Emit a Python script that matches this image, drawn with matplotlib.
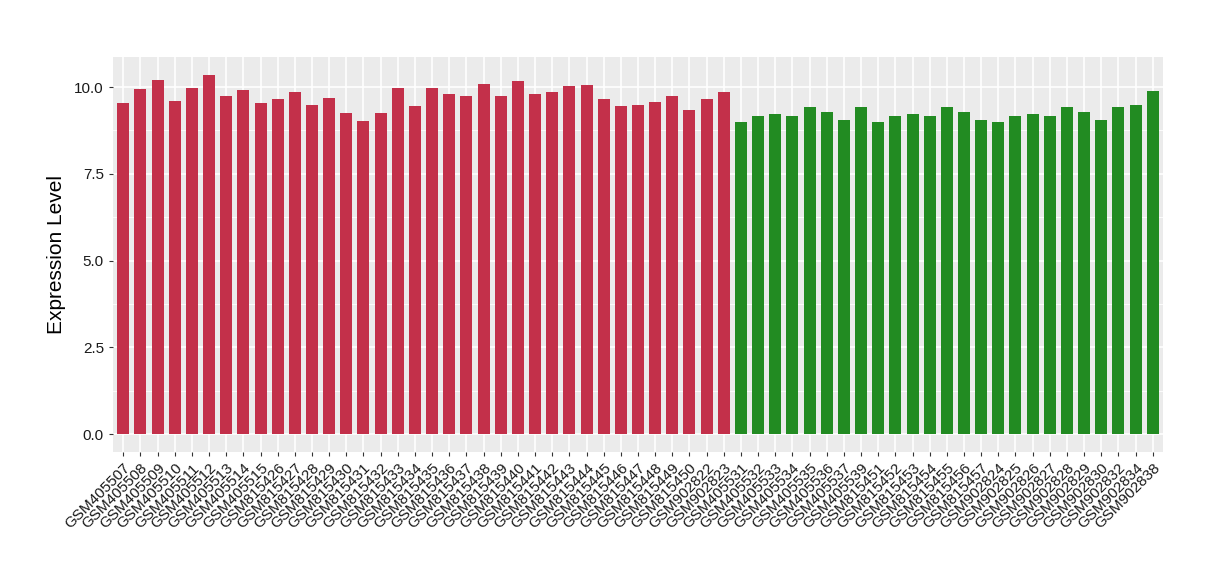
import numpy as np
import matplotlib
matplotlib.use("Agg")
import matplotlib.pyplot as plt

plt.rcParams['font.family'] = ['Liberation Sans', 'DejaVu Sans']

red_samples = (["GSM4055%02d" % i for i in range(7, 16)] +
               ["GSM8154%02d" % i for i in range(26, 51)] +
               ["GSM902822", "GSM902823"])
green_samples = (["GSM405531", "GSM405532", "GSM405533", "GSM405534",
                  "GSM405535", "GSM405536", "GSM405537", "GSM405539"] +
                 ["GSM8154%02d" % i for i in range(51, 58)] +
                 ["GSM902824", "GSM902825", "GSM902826", "GSM902827",
                  "GSM902828", "GSM902829", "GSM902830", "GSM902832",
                  "GSM902834", "GSM902838"])

red_values = [9.54, 9.94, 10.20, 9.60, 9.97, 10.35, 9.74, 9.91, 9.54,
              9.65, 9.86, 9.48, 9.68, 9.25, 9.02, 9.25, 9.97, 9.45,
              9.97, 9.80, 9.74, 10.09, 9.74, 10.17, 9.80, 9.86, 10.03,
              10.06, 9.65, 9.45, 9.48, 9.57, 9.74, 9.34, 9.65, 9.86]
green_values = [8.99, 9.16, 9.22, 9.16, 9.42, 9.28, 9.05, 9.42,
                8.99, 9.16, 9.22, 9.16, 9.42, 9.28, 9.05,
                8.99, 9.16, 9.22, 9.16, 9.42, 9.28, 9.05, 9.42, 9.48, 9.88]

red_color = "#C3304A"
green_color = "#228B22"

labels = red_samples + green_samples
values = red_values + green_values
colors = [red_color] * len(red_values) + [green_color] * len(green_values)
x = np.arange(len(labels))

fig = plt.figure(figsize=(12.2, 5.8), dpi=100)
ax = fig.add_axes([0.0926, 0.2207, 0.8607, 0.681])
ax.set_facecolor("#EBEBEB")

ax.bar(x, values, width=0.7, color=colors, zorder=3)

ymax = max(values)
ax.set_ylim(-0.05 * ymax, ymax * 1.05)
ax.set_xlim(-0.6, len(labels) - 0.4)

ax.set_yticks([0, 2.5, 5.0, 7.5, 10.0])
ax.set_yticklabels(["0.0", "2.5", "5.0", "7.5", "10.0"])
ax.set_yticks([1.25, 3.75, 6.25, 8.75], minor=True)
ax.set_xticks(x)
ax.set_xticklabels(labels, rotation=45, ha="right", rotation_mode="anchor",
                   fontsize=11, color="#1A1A1A")

ax.grid(which="major", color="white", linewidth=1.2, zorder=0)
ax.grid(which="minor", axis="y", color="white", linewidth=0.6, zorder=0)
ax.tick_params(axis="both", which="major", length=3, color="#333333",
               labelsize=11, labelcolor="#1A1A1A")
ax.tick_params(axis="x", which="major", labelsize=11)
ax.tick_params(axis="y", which="minor", length=0)
for s in ax.spines.values():
    s.set_visible(False)

ax.set_ylabel("Expression Level", fontsize=15, labelpad=6)

fig.savefig("out.png", dpi=100)
